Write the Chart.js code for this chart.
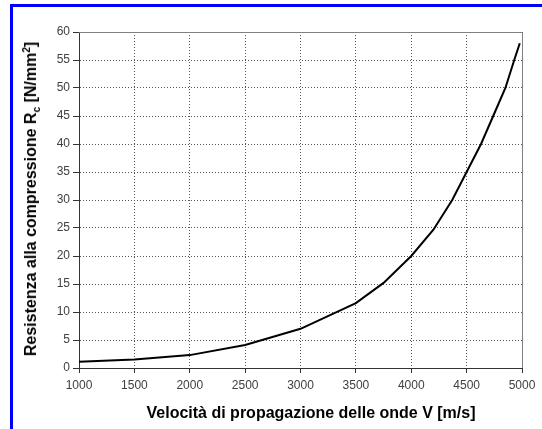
<!DOCTYPE html>
<html>
<head>
<meta charset="utf-8">
<script src="https://cdn.jsdelivr.net/npm/chart.js@4.4.0/dist/chart.umd.min.js"></script>
<style>
  html, body { margin: 0; padding: 0; background: #ffffff; }
  #wrap { position: relative; width: 542px; height: 429px; overflow: hidden; }
  #frame { position: absolute; left: 10px; top: 4px; right: -10px; bottom: -10px;
           border-left: 3px solid #0000ff; border-top: 3px solid #0000ff; }
  canvas { position: absolute; left: 0; top: 0; }
  .title { position: absolute; font-family: "Liberation Sans", Arial, sans-serif; font-weight: bold;
           font-size: 16px; color: #000; white-space: nowrap; line-height: 18px; }
  .title sub, .title sup { font-size: 10px; line-height: 0; }
  #ytitle { left: 31px; top: 199px; transform: translate(-50%, -50%) rotate(-90deg); }
  #xtitle { left: 311px; top: 404px; transform: translateX(-50%); }
</style>
</head>
<body>
<div id="wrap">
  <div id="frame"></div>
  <canvas id="chart" width="542" height="429"></canvas>
  <div class="title" id="ytitle">Resistenza alla compressione R<sub>c</sub> [N/mm<sup>2</sup>]</div>
  <div class="title" id="xtitle">Velocità di propagazione delle onde V [m/s]</div>
</div>
<script>
// values
const velocity = [1000, 1500, 2000, 2500, 3000, 3500, 3750, 4000, 4200, 4370, 4500, 4630, 4740, 4850, 4930, 4980];
const strength = [1.1, 1.5, 2.3, 4.1, 7.0, 11.6, 15.2, 20.0, 24.7, 30.0, 35.0, 40.0, 45.0, 50.0, 55.0, 58.0];

const xTicks = [1000, 1500, 2000, 2500, 3000, 3500, 4000, 4500, 5000];
const yTicks = [0, 5, 10, 15, 20, 25, 30, 35, 40, 45, 50, 55, 60];

const points = velocity.map((v, i) => ({ x: v, y: strength[i] }));

// top and right edges of the plot box
const boxEdges = {
    id: 'boxEdges',
    afterDraw(chart) {
        const a = chart.chartArea;
        const ctx = chart.ctx;
        ctx.save();
        ctx.strokeStyle = '#808080';
        ctx.lineWidth = 1;
        ctx.beginPath();
        ctx.moveTo(a.left, a.top + 0.5);
        ctx.lineTo(a.right + 0.5, a.top + 0.5);
        ctx.lineTo(a.right + 0.5, a.bottom);
        ctx.stroke();
        ctx.restore();
    }
};

const tickFont = { family: '"Liberation Sans", Arial, sans-serif', size: 12 };

new Chart(document.getElementById('chart').getContext('2d'), {
    type: 'line',
    data: {
        datasets: [{
            data: points,
            borderColor: '#000000',
            borderWidth: 2,
            pointRadius: 0,
            tension: 0,
            fill: false
        }]
    },
    options: {
        responsive: false,
        animation: false,
        layout: { padding: { top: 32, right: 20, left: 0, bottom: 0 } },
        plugins: { legend: { display: false }, tooltip: { enabled: false } },
        scales: {
            x: {
                type: 'linear',
                min: xTicks[0],
                max: xTicks[xTicks.length - 1],
                afterBuildTicks: s => { s.ticks = xTicks.map(v => ({ value: v })); },
                afterFit: s => { s.height = 61; },
                ticks: { color: '#404040', font: tickFont, padding: 5, maxRotation: 0, callback: v => String(v) },
                grid: { color: '#555555', tickLength: 5, tickColor: '#333333', tickBorderDash: [] },
                border: { display: true, color: '#333333', width: 1, dash: [1, 2] }
            },
            y: {
                min: yTicks[0],
                max: yTicks[yTicks.length - 1],
                afterBuildTicks: s => { s.ticks = yTicks.map(v => ({ value: v })); },
                afterFit: s => { s.width = 79; },
                ticks: { color: '#404040', font: tickFont, padding: 3, callback: v => String(v) },
                grid: { color: '#555555', tickLength: 6, tickColor: '#333333', tickBorderDash: [] },
                border: { display: true, color: '#333333', width: 1, dash: [1, 2] }
            }
        }
    },
    plugins: [boxEdges]
});
</script>
</body>
</html>
